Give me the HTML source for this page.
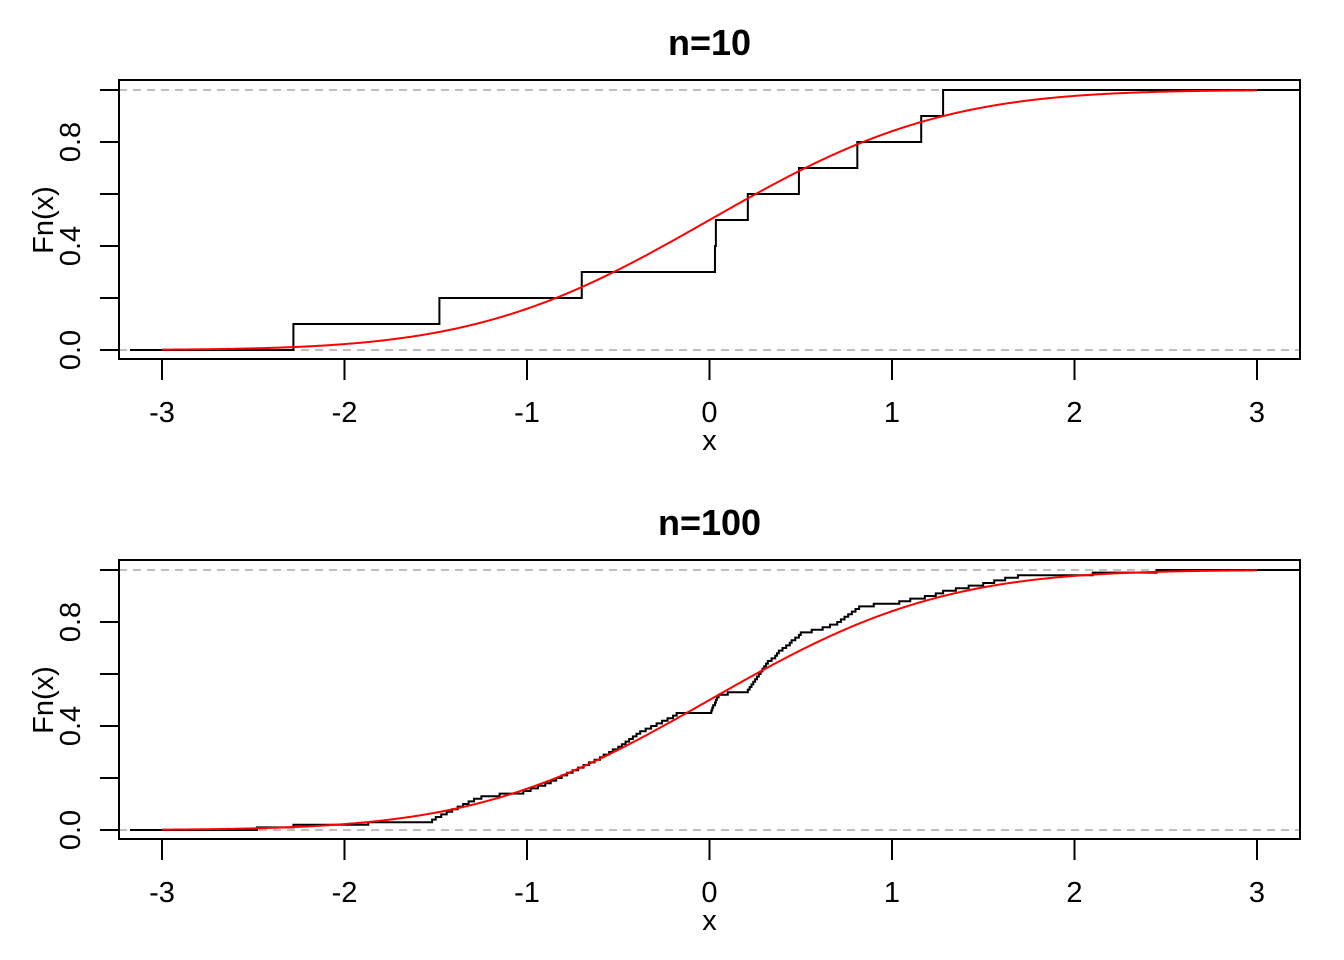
<!DOCTYPE html>
<html><head><meta charset="utf-8"><style>
body{margin:0;background:#fff}
svg{display:block;font-family:"Liberation Sans",Arial,sans-serif}
</style></head><body>
<svg id="c" width="1344" height="960" xmlns="http://www.w3.org/2000/svg"></svg>
<script>
const sample10 = [-2.28,-1.48,-0.70,0.03,0.035,0.21,0.49,0.81,1.16,1.28];
const sample100 = [-2.48,-2.28,-1.87,-1.52,-1.50,-1.47,-1.44,-1.41,-1.38,-1.35,-1.32,-1.29,-1.25,-1.15,-1.02,
-0.98,-0.94,-0.90,-0.87,-0.84,-0.81,-0.78,-0.75,
-0.72,-0.69,-0.66,-0.63,-0.60,-0.58,-0.55,-0.53,-0.50,-0.48,-0.46,-0.44,-0.42,-0.40,-0.38,
-0.35,-0.32,-0.29,-0.26,-0.23,-0.20,-0.18,
0.01,0.015,0.02,0.03,0.035,0.04,0.05,0.10,0.21,
0.22,0.23,0.24,0.25,0.26,0.27,0.28,0.29,0.30,0.31,0.32,
0.34,0.36,0.37,0.38,0.40,0.42,0.44,0.45,0.47,0.49,0.50,
0.56,0.62,0.66,0.70,0.72,0.74,0.76,0.78,0.80,0.82,0.90,1.04,
1.10,1.18,1.24,1.28,1.35,1.42,1.50,1.56,1.62,1.69,2.10,2.45];
const xTicks = [-3,-2,-1,0,1,2,3];
const yTicks = [0,0.2,0.4,0.6,0.8,1];
const yLabels = ["0.0","0.4","0.8"];
const titles = ["n=10","n=100"];

const svg=document.getElementById('c');
const NS='http://www.w3.org/2000/svg';
function mk(tag,attrs,parent){const e=document.createElementNS(NS,tag);for(const k in attrs)e.setAttribute(k,attrs[k]);(parent||svg).appendChild(e);return e;}
function erf(x){const s=x<0?-1:1;x=Math.abs(x);const t=1/(1+0.3275911*x);
const y=1-(((((1.061405429*t-1.453152027)*t)+1.421413741)*t-0.284496736)*t+0.254829592)*t*Math.exp(-x*x);return s*y;}
function pnorm(x){return 0.5*(1+erf(x/Math.SQRT2));}

function panel(data,title,dy,name){
  const g=mk('g',{});
  
  
  const X=v=>709.5+v*182.5;
  const Y=v=>dy+350-v*260;
  const t=mk('text',{x:709.5,y:dy+55,'text-anchor':'middle','font-size':36,'font-weight':'bold'},g);t.textContent=title;
  
  [0,1].forEach(v=>{const l=mk('line',{x1:119,x2:1300,y1:Y(v),y2:Y(v),stroke:'#aaa','stroke-width':1.5,'stroke-dasharray':'8,6'},g);
    });
  const s=[...data].sort((a,b)=>a-b);const n=s.length;
  let d=`M130 ${Y(0)} H${X(s[0])}`;
  for(let i=0;i<n;i++){d+=` V${Y((i+1)/n)} H${i+1<n?X(s[i+1]):1299}`;}
  const p=mk('path',{d:d,fill:'none',stroke:'#000','stroke-width':2},g);
  
  let c='';for(let i=0;i<=600;i++){const v=-3+i*0.01;c+=(i?'L':'M')+X(v).toFixed(2)+' '+Y(pnorm(v)).toFixed(2);}
  const r=mk('path',{d:c,fill:'none',stroke:'#f00','stroke-width':2},g);
  
  const b=mk('rect',{x:119,y:dy+80,width:1181,height:279,fill:'none',stroke:'#000','stroke-width':2},g);
  
  xTicks.forEach(v=>{mk('line',{x1:X(v),x2:X(v),y1:dy+359,y2:dy+380,stroke:'#000','stroke-width':2},g);
    const tl=mk('text',{x:X(v),y:dy+422,'text-anchor':'middle','font-size':29},g);tl.textContent=v;
    });
  const xl=mk('text',{x:709.5,y:dy+450,'text-anchor':'middle','font-size':29},g);xl.textContent='x';
  
  yTicks.forEach(v=>{mk('line',{x1:100,x2:119,y1:Y(v),y2:Y(v),stroke:'#000','stroke-width':2},g);});
  yLabels.forEach(s=>{const v=parseFloat(s);const tl=mk('text',{x:0,y:0,'text-anchor':'middle','font-size':29,transform:`translate(80,${Y(v)}) rotate(-90)`},g);tl.textContent=s;
    });
  const yl=mk('text',{x:0,y:0,'text-anchor':'middle','font-size':29,transform:`translate(53,${dy+220}) rotate(-90)`},g);yl.textContent='Fn(x)';
  
}
panel(sample10,titles[0],0,'panel-n10');
panel(sample100,titles[1],480,'panel-n100');
</script>
</body></html>
